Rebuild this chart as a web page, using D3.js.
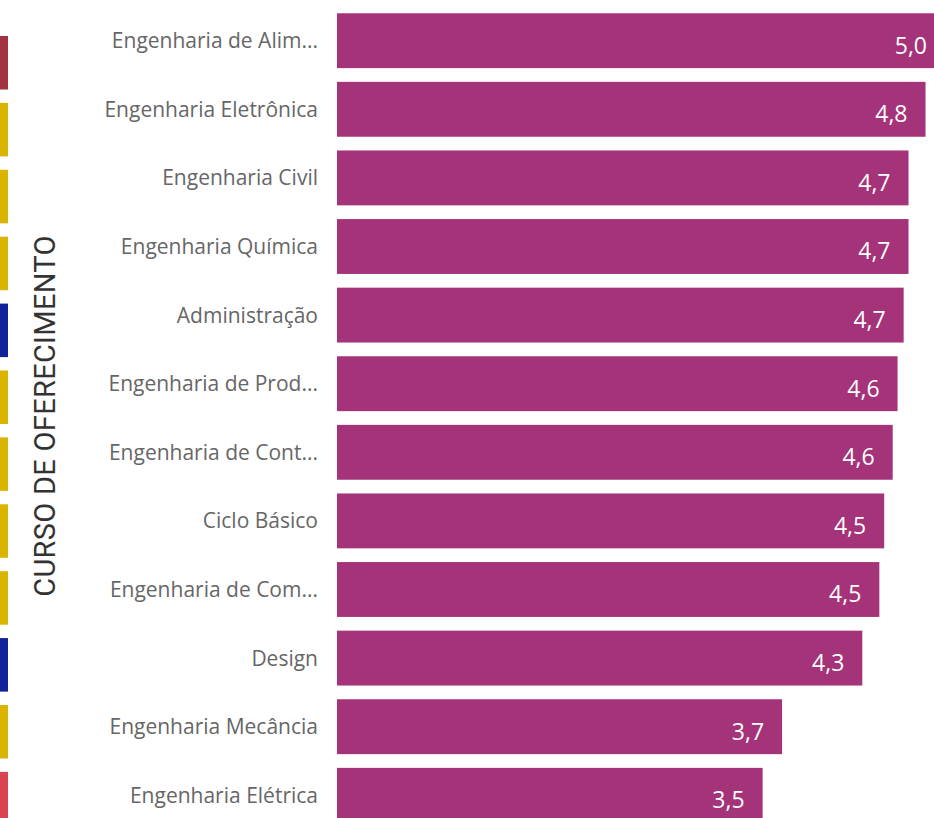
<!DOCTYPE html>
<html>
<head>
<meta charset="utf-8">
<script src="https://cdn.jsdelivr.net/npm/d3@7"></script>
<style>
  html, body { margin: 0; padding: 0; background: #fff; overflow: hidden; }
</style>
</head>
<body>
<div id="chart"></div>
<script>
// cursos et notes
const cursos = [
  "Engenharia de Alimentos",
  "Engenharia Eletrônica",
  "Engenharia Civil",
  "Engenharia Química",
  "Administração",
  "Engenharia de Produção",
  "Engenharia de Controle e Automação",
  "Ciclo Básico",
  "Engenharia de Computação",
  "Design",
  "Engenharia Mecância",
  "Engenharia Elétrica"
];
const notas = [5.0, 4.84, 4.70, 4.70, 4.66, 4.61, 4.57, 4.50, 4.46, 4.32, 3.66, 3.50];
// couleur de la bande à gauche
const faixas = ["#a3333f", "#dab400", "#dab400", "#dab400", "#10219a", "#dab400",
                "#dab400", "#dab400", "#dab400", "#10219a", "#dab400", "#d8444f"];

const width = 934, height = 818;
const maxLabel = 320 - 104; // largeur max du libellé avant "..."

var svg = d3.select("#chart").append("svg")
  .attr("width", width)
  .attr("height", height);

var x = d3.scaleLinear().domain([0, 5]).range([337, 945]);
var y = d3.scaleBand().domain(cursos).range([6.4, 829.6]).paddingInner(0.2).paddingOuter(0.1);
var yFaixa = d3.scaleBand().domain(cursos).range([36, 36 + 66.9 * 12 - 13.4]).paddingInner(0.2);

// bandes de couleur
svg.selectAll("rect.faixa")
  .data(cursos)
  .enter()
  .append("rect")
  .attr("class", "faixa")
  .attr("x", 0)
  .attr("y", d => yFaixa(d))
  .attr("width", 8)
  .attr("height", yFaixa.bandwidth())
  .attr("fill", (d, i) => faixas[i]);

// titre vertical
svg.append("text")
  .attr("transform", "translate(55," + 416 + ") rotate(-90)")
  .attr("text-anchor", "middle")
  .style("font-family", "Roboto, sans-serif")
  .style("font-size", "29px")
  .style("letter-spacing", "0.3px")
  .style("fill", "#333")
  .text("CURSO DE OFERECIMENTO");

// barres
svg.selectAll("rect.barra")
  .data(notas)
  .enter()
  .append("rect")
  .attr("class", "barra")
  .attr("x", x(0))
  .attr("y", (d, i) => y(cursos[i]))
  .attr("width", d => x(d) - x(0))
  .attr("height", y.bandwidth())
  .attr("fill", "#a5337a");

// libellés des cursos (tronqués si trop longs)
svg.selectAll("text.curso")
  .data(cursos)
  .enter()
  .append("text")
  .attr("class", "curso")
  .attr("x", 318)
  .attr("y", d => y(d) + y.bandwidth() / 2 + 7.5)
  .attr("text-anchor", "end")
  .style("font-family", "'Open Sans', sans-serif")
  .style("font-size", "21px")
  .style("fill", "#666")
  .text(d => d)
  .each(function(d) {
    var t = d3.select(this);
    if (this.getComputedTextLength() <= maxLabel) return;
    var s = d;
    while (s.length > 1) {
      s = s.slice(0, -1);
      t.text(s.trimEnd() + "...");
      if (this.getComputedTextLength() <= maxLabel) break;
    }
  });

// valeurs
svg.selectAll("text.valor")
  .data(notas)
  .enter()
  .append("text")
  .attr("class", "valor")
  .attr("x", d => x(d) - 18)
  .attr("y", (d, i) => y(cursos[i]) + y.bandwidth() / 2 + 12.8)
  .attr("text-anchor", "end")
  .style("font-family", "'Open Sans', sans-serif")
  .style("font-size", "23px")
  .style("fill", "#fff")
  .text(d => d3.format(".1f")(d).replace(".", ","));
</script>
</body>
</html>
